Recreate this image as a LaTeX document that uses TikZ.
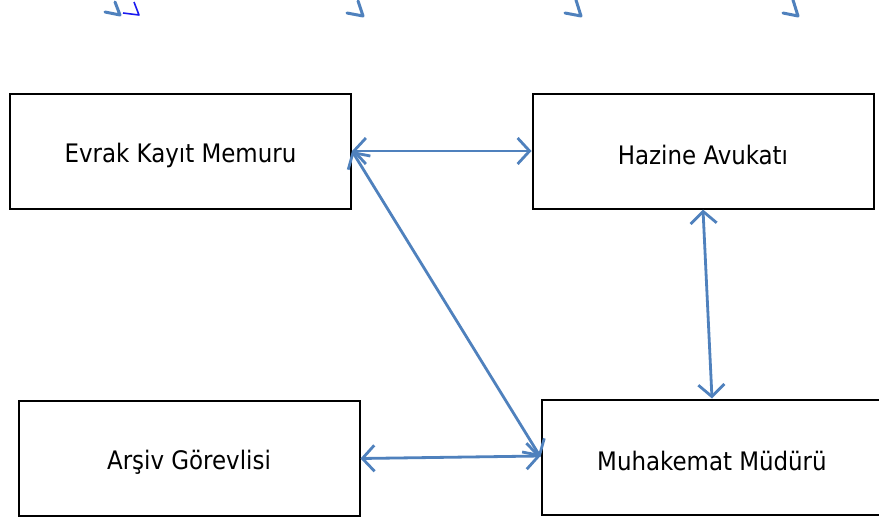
\documentclass[tikz,border=0pt]{standalone}
\usepackage{fontspec}
\setmainfont{DejaVu Sans Condensed}
\usetikzlibrary{arrows.meta}
\definecolor{lineblue}{HTML}{4F81BD}
\definecolor{darkblue}{HTML}{1A1AF0}
\tikzset{
  box/.style={draw=black, line width=2pt, minimum width=341pt, minimum height=115pt, inner sep=0pt},
  boxtext/.style={font=\fontsize{25.5}{30}\selectfont, text=black, anchor=center},
  link/.style={draw=lineblue, line width=2.8pt, {Straight Barb[length=12pt,width=26pt,line width=2.8pt]}-{Straight Barb[length=12pt,width=26pt,line width=2.8pt]}},
  stub/.style={draw=lineblue, line width=3pt, line cap=round, line join=round},
}
\begin{document}
\begin{tikzpicture}[x=1pt,y=-1pt]
\useasboundingbox[fill=white] (0,0) rectangle (879,522);
\node[box] (evrak) at (180.5,151) {};
\node[box] (hazine) at (703,151) {};
\node[box] (arsiv) at (189,458.5) {};
\node[box] (muh) at (712,457) {};
\node[boxtext] (evrakt) at ([yshift=-4pt]evrak.center) {Evrak Kayıt Memuru};
\node[boxtext] (hazinet) at ([yshift=-4pt]hazine.center) {Hazine Avukatı};
\node[boxtext] (arsivt) at ([yshift=-4pt]arsiv.center) {Arşiv Görevlisi};
\node[boxtext] (muht) at ([yshift=-4pt]muh.center) {Muhakemat Müdürü};
\draw[link] (evrak.east) -- (hazine.west);
\draw[link] (evrak.east) -- (muh.west);
\draw[link] (hazine.south) -- (muh.north);
\draw[link] (arsiv.east) -- ([yshift=1pt]muh.west);
% clipped arrow tips at the top edge
\draw[stub] (105,12) -- (120,15) -- (115,2);
\draw[darkblue, line width=1.6pt, line join=round] (123,13) -- (139,15) -- (134,2);
\draw[stub] (347,13) -- (363,16) -- (358,1);
\draw[stub] (565,13) -- (581,16) -- (576,0);
\draw[stub] (783,13) -- (798,16) -- (793,0);
\end{tikzpicture}
\end{document}
